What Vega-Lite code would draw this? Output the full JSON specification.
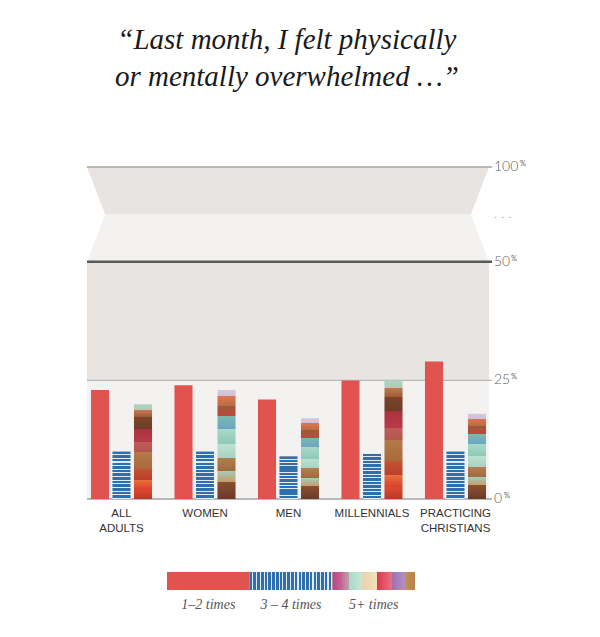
{
  "$schema": "https://vega.github.io/schema/vega-lite/v6.json",
  "background": "white",
  "padding": {"left": 85, "top": 26, "right": 5, "bottom": 5},
  "title": {
    "text": ["“Last month, I felt physically", "or mentally overwhelmed …”"],
    "font": "Liberation Serif",
    "fontStyle": "italic",
    "fontWeight": "normal",
    "fontSize": 29,
    "lineHeight": 37,
    "color": "#1a1a1a",
    "anchor": "middle",
    "dx": -19,
    "offset": 68
  },
  "config": {"view": {"stroke": null}},
  "spacing": 38,
  "datasets": {
    "bars": [
      {"group": "ALL ADULTS", "times": "1–2 times", "value": 23},
      {"group": "ALL ADULTS", "times": "3–4 times", "value": 10},
      {"group": "ALL ADULTS", "times": "5+ times", "value": 20},
      {"group": "WOMEN", "times": "1–2 times", "value": 24},
      {"group": "WOMEN", "times": "3–4 times", "value": 10},
      {"group": "WOMEN", "times": "5+ times", "value": 23},
      {"group": "MEN", "times": "1–2 times", "value": 21},
      {"group": "MEN", "times": "3–4 times", "value": 9},
      {"group": "MEN", "times": "5+ times", "value": 17},
      {"group": "MILLENNIALS", "times": "1–2 times", "value": 25},
      {"group": "MILLENNIALS", "times": "3–4 times", "value": 9.5},
      {"group": "MILLENNIALS", "times": "5+ times", "value": 25},
      {"group": "PRACTICING CHRISTIANS", "times": "1–2 times", "value": 29},
      {"group": "PRACTICING CHRISTIANS", "times": "3–4 times", "value": 10},
      {"group": "PRACTICING CHRISTIANS", "times": "5+ times", "value": 18}
    ],
    "bands": [
      {"lo": 0, "hi": 25, "shade": "light"},
      {"lo": 25, "hi": 50, "shade": "dark"}
    ],
    "trap": [
      {"bx": 0, "lo": 70, "hi": 70, "shade": "dark"},
      {"bx": 0.045, "lo": 60, "hi": 70, "shade": "dark"},
      {"bx": 0.955, "lo": 60, "hi": 70, "shade": "dark"},
      {"bx": 1, "lo": 70, "hi": 70, "shade": "dark"},
      {"bx": 0, "lo": 50, "hi": 50, "shade": "light"},
      {"bx": 0.045, "lo": 50, "hi": 60, "shade": "light"},
      {"bx": 0.955, "lo": 50, "hi": 60, "shade": "light"},
      {"bx": 1, "lo": 50, "hi": 50, "shade": "light"}
    ],
    "lines": [{"v": 0}, {"v": 25}, {"v": 50}, {"v": 70}],
    "ticks": [
      {"v": 0, "label": "0"},
      {"v": 25, "label": "25"},
      {"v": 50, "label": "50"},
      {"v": 60, "label": ". . ."},
      {"v": 70, "label": "100"}
    ],
    "legend": [{"label": "1–2 times"}, {"label": "3 – 4 times"}, {"label": "5+ times"}]
  },
  "vconcat": [
    {
      "width": 402,
      "height": 332,
      "resolve": {"scale": {"x": "independent"}},
      "layer": [
        {
          "layer": [
            {
              "data": {"name": "bands"},
              "mark": {"type": "rect"},
              "encoding": {
                "x": {"datum": 0, "type": "quantitative", "scale": {"domain": [0, 1]}, "axis": null},
                "x2": {"datum": 1},
                "y": {"field": "lo", "type": "quantitative", "scale": {"domain": [0, 70], "nice": false}, "axis": null},
                "y2": {"field": "hi"},
                "color": {"field": "shade", "type": "nominal", "scale": {"domain": ["light", "dark"], "range": ["#f3f2f0", "#e8e4e2"]}, "legend": null}
              }
            },
            {
              "data": {"name": "trap"},
              "mark": {"type": "area", "interpolate": "linear"},
              "encoding": {
                "x": {"field": "bx", "type": "quantitative", "scale": {"domain": [0, 1]}, "axis": null},
                "y": {"field": "lo", "type": "quantitative", "stack": null, "scale": {"domain": [0, 70], "nice": false}, "axis": null},
                "y2": {"field": "hi"},
                "color": {"field": "shade", "type": "nominal", "scale": {"domain": ["light", "dark"], "range": ["#f3f2f0", "#e8e4e2"]}, "legend": null}
              }
            },
            {
              "data": {"name": "lines"},
              "mark": {"type": "rule", "clip": false},
              "encoding": {
                "x": {"datum": 0, "type": "quantitative", "scale": {"domain": [0, 1]}, "axis": null},
                "x2": {"datum": 1.0075},
                "y": {"field": "v", "type": "quantitative", "scale": {"domain": [0, 70], "nice": false}, "axis": null},
                "color": {"condition": {"test": "datum.v == 50", "value": "#5a5a5a"}, "value": "#b8b8b8"},
                "strokeWidth": {"condition": [{"test": "datum.v == 50", "value": 2.5}, {"test": "datum.v == 25", "value": 1.2}], "value": 2}
              }
            },
            {
              "data": {"name": "ticks"},
              "mark": {"type": "text", "align": "left", "baseline": "middle", "fontSize": 14, "fontWeight": 300, "font": "Lato", "dx": 5},
              "encoding": {
                "x": {"datum": 1, "type": "quantitative", "scale": {"domain": [0, 1]}, "axis": null},
                "y": {"field": "v", "type": "quantitative", "scale": {"domain": [0, 70], "nice": false}, "axis": null},
                "text": {"field": "label", "type": "nominal"},
                "color": {"condition": {"test": "datum.v == 60", "value": "#999999"}, "value": "#606060"}
              }
            },
            {
              "data": {"name": "lines"},
              "mark": {"type": "text", "align": "left", "baseline": "middle", "fontSize": 7.5, "font": "Lato", "color": "#666", "dy": -3, "dx": {"expr": "datum.v == 70 ? 31 : datum.v == 0 ? 15 : 22"}},
              "encoding": {
                "x": {"datum": 1, "type": "quantitative", "scale": {"domain": [0, 1]}, "axis": null},
                "y": {"field": "v", "type": "quantitative", "scale": {"domain": [0, 70], "nice": false}, "axis": null},
                "text": {"value": "%"}
              }
            }
          ]
        },
        {
          "data": {"name": "bars"},
          "encoding": {
            "x": {
              "field": "group", "type": "nominal", "sort": null,
              "scale": {"domain": ["ALL ADULTS", "WOMEN", "MEN", "MILLENNIALS", "PRACTICING CHRISTIANS"], "range": [-7.25, 410.25], "paddingInner": 0.2275, "paddingOuter": 0.11375},
              "axis": {"title": null, "orient": "bottom", "domain": false, "ticks": false, "labelAngle": 0, "labelPadding": 8, "labelExpr": "split(datum.label, ' ')", "labelFont": "Liberation Sans", "labelFontSize": 11.5, "labelColor": "#333", "labelLineHeight": 15, "labelBaseline": "top"}
            },
            "xOffset": {"field": "times", "type": "nominal", "sort": null, "scale": {"domain": ["1–2 times", "3–4 times", "5+ times"], "paddingInner": 0.16, "paddingOuter": 0.08}},
            "y": {
              "field": "value", "type": "quantitative",
              "scale": {"domain": [0, 70], "nice": false},
              "axis": null
            }
          },
          "layer": [
            {
              "transform": [{"filter": "datum.times == '1–2 times'"}],
              "mark": {"type": "bar", "color": "#e0534e"}
            },
            {
              "transform": [{"filter": "datum.times == '3–4 times'"}],
              "mark": {"type": "bar", "color": {"gradient": "linear", "x1": 0, "y1": 0, "x2": 0, "y2": 1, "stops": [
                {"offset": 0, "color": "#2f6fae"}, {"offset": 0.0554, "color": "#2f6fae"}, {"offset": 0.0554, "color": "#e3ecf5"}, {"offset": 0.0769, "color": "#e3ecf5"},
                {"offset": 0.0769, "color": "#2f6fae"}, {"offset": 0.1323, "color": "#2f6fae"}, {"offset": 0.1323, "color": "#e3ecf5"}, {"offset": 0.1538, "color": "#e3ecf5"},
                {"offset": 0.1538, "color": "#2f6fae"}, {"offset": 0.2092, "color": "#2f6fae"}, {"offset": 0.2092, "color": "#e3ecf5"}, {"offset": 0.2308, "color": "#e3ecf5"},
                {"offset": 0.2308, "color": "#2f6fae"}, {"offset": 0.2862, "color": "#2f6fae"}, {"offset": 0.2862, "color": "#e3ecf5"}, {"offset": 0.3077, "color": "#e3ecf5"},
                {"offset": 0.3077, "color": "#2f6fae"}, {"offset": 0.3631, "color": "#2f6fae"}, {"offset": 0.3631, "color": "#e3ecf5"}, {"offset": 0.3846, "color": "#e3ecf5"},
                {"offset": 0.3846, "color": "#2f6fae"}, {"offset": 0.44, "color": "#2f6fae"}, {"offset": 0.44, "color": "#e3ecf5"}, {"offset": 0.4615, "color": "#e3ecf5"},
                {"offset": 0.4615, "color": "#2f6fae"}, {"offset": 0.5169, "color": "#2f6fae"}, {"offset": 0.5169, "color": "#e3ecf5"}, {"offset": 0.5385, "color": "#e3ecf5"},
                {"offset": 0.5385, "color": "#2f6fae"}, {"offset": 0.5939, "color": "#2f6fae"}, {"offset": 0.5939, "color": "#e3ecf5"}, {"offset": 0.6154, "color": "#e3ecf5"},
                {"offset": 0.6154, "color": "#2f6fae"}, {"offset": 0.6708, "color": "#2f6fae"}, {"offset": 0.6708, "color": "#e3ecf5"}, {"offset": 0.6923, "color": "#e3ecf5"},
                {"offset": 0.6923, "color": "#2f6fae"}, {"offset": 0.7477, "color": "#2f6fae"}, {"offset": 0.7477, "color": "#e3ecf5"}, {"offset": 0.7692, "color": "#e3ecf5"},
                {"offset": 0.7692, "color": "#2f6fae"}, {"offset": 0.8246, "color": "#2f6fae"}, {"offset": 0.8246, "color": "#e3ecf5"}, {"offset": 0.8462, "color": "#e3ecf5"},
                {"offset": 0.8462, "color": "#2f6fae"}, {"offset": 0.9016, "color": "#2f6fae"}, {"offset": 0.9016, "color": "#e3ecf5"}, {"offset": 0.9231, "color": "#e3ecf5"},
                {"offset": 0.9231, "color": "#2f6fae"}, {"offset": 0.9785, "color": "#2f6fae"}, {"offset": 0.9785, "color": "#e3ecf5"}, {"offset": 1, "color": "#e3ecf5"}
              ]}}
            },
            {
              "transform": [{"filter": "datum.times == '5+ times' && (datum.group == 'ALL ADULTS' || datum.group == 'MILLENNIALS')"}],
              "mark": {"type": "bar", "color": {"gradient": "linear", "x1": 0, "y1": 0, "x2": 0, "y2": 1, "stops": [
                {"offset": 0, "color": "#a9d6c6"}, {"offset": 0.06, "color": "#b8c8b0"},
                {"offset": 0.06, "color": "#c47a52"}, {"offset": 0.14, "color": "#9c5a36"},
                {"offset": 0.14, "color": "#7a4428"}, {"offset": 0.26, "color": "#6e3c26"},
                {"offset": 0.26, "color": "#a8343e"}, {"offset": 0.4, "color": "#b83a48"},
                {"offset": 0.4, "color": "#c05c58"}, {"offset": 0.5, "color": "#b4564e"},
                {"offset": 0.5, "color": "#b47a4a"}, {"offset": 0.68, "color": "#a86a3c"},
                {"offset": 0.68, "color": "#c45232"}, {"offset": 0.8, "color": "#b8402c"},
                {"offset": 0.8, "color": "#e8703a"}, {"offset": 0.9, "color": "#d8402e"},
                {"offset": 0.9, "color": "#e04a2e"}, {"offset": 1, "color": "#b8382a"}
              ]}}
            },
            {
              "transform": [{"filter": "datum.times == '5+ times' && !(datum.group == 'ALL ADULTS' || datum.group == 'MILLENNIALS')"}],
              "mark": {"type": "bar", "color": {"gradient": "linear", "x1": 0, "y1": 0, "x2": 0, "y2": 1, "stops": [
                {"offset": 0, "color": "#d6c8de"}, {"offset": 0.06, "color": "#d0c0d4"},
                {"offset": 0.06, "color": "#e0744e"}, {"offset": 0.15, "color": "#b86c42"},
                {"offset": 0.15, "color": "#9a5a38"}, {"offset": 0.24, "color": "#c24640"},
                {"offset": 0.24, "color": "#7cb8ae"}, {"offset": 0.36, "color": "#6aa6c4"},
                {"offset": 0.36, "color": "#a8d8c8"}, {"offset": 0.5, "color": "#8ec8b8"},
                {"offset": 0.5, "color": "#c0e0d0"}, {"offset": 0.62, "color": "#a8d2c2"},
                {"offset": 0.62, "color": "#b0804e"}, {"offset": 0.74, "color": "#a06a40"},
                {"offset": 0.74, "color": "#a0d0c0"}, {"offset": 0.84, "color": "#c89a68"},
                {"offset": 0.84, "color": "#8a5030"}, {"offset": 1, "color": "#6a3a2a"}
              ]}}
            }
          ]
        }
      ]
    },
    {
      "width": 402,
      "height": 18,
      "data": {"name": "legend"},
      "encoding": {
        "x": {
          "field": "label", "type": "nominal", "sort": null,
          "scale": {"domain": ["1–2 times", "3 – 4 times", "5+ times"], "range": [80, 328], "paddingInner": 0, "paddingOuter": 0},
          "axis": {"title": null, "domain": false, "ticks": false, "labelAngle": 0, "labelPadding": 7, "labelFont": "Liberation Serif", "labelFontStyle": "italic", "labelFontSize": 14, "labelColor": "#555"}
        }
      },
      "layer": [
        {
          "transform": [{"filter": "datum.label == '1–2 times'"}],
          "mark": {"type": "bar", "color": "#e0534e"}
        },
        {
          "transform": [{"filter": "datum.label == '3 – 4 times'"}],
          "mark": {"type": "bar", "color": {"gradient": "linear", "x1": 0, "y1": 0, "x2": 1, "y2": 0, "stops": [
            {"offset": 0, "color": "#2f6fae"}, {"offset": 0.0318, "color": "#2f6fae"}, {"offset": 0.0318, "color": "#e3ecf5"}, {"offset": 0.0455, "color": "#e3ecf5"},
            {"offset": 0.0455, "color": "#2f6fae"}, {"offset": 0.0773, "color": "#2f6fae"}, {"offset": 0.0773, "color": "#e3ecf5"}, {"offset": 0.0909, "color": "#e3ecf5"},
            {"offset": 0.0909, "color": "#2f6fae"}, {"offset": 0.1227, "color": "#2f6fae"}, {"offset": 0.1227, "color": "#e3ecf5"}, {"offset": 0.1364, "color": "#e3ecf5"},
            {"offset": 0.1364, "color": "#2f6fae"}, {"offset": 0.1682, "color": "#2f6fae"}, {"offset": 0.1682, "color": "#e3ecf5"}, {"offset": 0.1818, "color": "#e3ecf5"},
            {"offset": 0.1818, "color": "#2f6fae"}, {"offset": 0.2136, "color": "#2f6fae"}, {"offset": 0.2136, "color": "#e3ecf5"}, {"offset": 0.2273, "color": "#e3ecf5"},
            {"offset": 0.2273, "color": "#2f6fae"}, {"offset": 0.2591, "color": "#2f6fae"}, {"offset": 0.2591, "color": "#e3ecf5"}, {"offset": 0.2727, "color": "#e3ecf5"},
            {"offset": 0.2727, "color": "#2f6fae"}, {"offset": 0.3045, "color": "#2f6fae"}, {"offset": 0.3045, "color": "#e3ecf5"}, {"offset": 0.3182, "color": "#e3ecf5"},
            {"offset": 0.3182, "color": "#2f6fae"}, {"offset": 0.35, "color": "#2f6fae"}, {"offset": 0.35, "color": "#e3ecf5"}, {"offset": 0.3636, "color": "#e3ecf5"},
            {"offset": 0.3636, "color": "#2f6fae"}, {"offset": 0.3954, "color": "#2f6fae"}, {"offset": 0.3954, "color": "#e3ecf5"}, {"offset": 0.4091, "color": "#e3ecf5"},
            {"offset": 0.4091, "color": "#2f6fae"}, {"offset": 0.4409, "color": "#2f6fae"}, {"offset": 0.4409, "color": "#e3ecf5"}, {"offset": 0.4545, "color": "#e3ecf5"},
            {"offset": 0.4545, "color": "#2f6fae"}, {"offset": 0.4863, "color": "#2f6fae"}, {"offset": 0.4863, "color": "#e3ecf5"}, {"offset": 0.5, "color": "#e3ecf5"},
            {"offset": 0.5, "color": "#2f6fae"}, {"offset": 0.5318, "color": "#2f6fae"}, {"offset": 0.5318, "color": "#e3ecf5"}, {"offset": 0.5455, "color": "#e3ecf5"},
            {"offset": 0.5455, "color": "#2f6fae"}, {"offset": 0.5773, "color": "#2f6fae"}, {"offset": 0.5773, "color": "#e3ecf5"}, {"offset": 0.5909, "color": "#e3ecf5"},
            {"offset": 0.5909, "color": "#2f6fae"}, {"offset": 0.6227, "color": "#2f6fae"}, {"offset": 0.6227, "color": "#e3ecf5"}, {"offset": 0.6364, "color": "#e3ecf5"},
            {"offset": 0.6364, "color": "#2f6fae"}, {"offset": 0.6682, "color": "#2f6fae"}, {"offset": 0.6682, "color": "#e3ecf5"}, {"offset": 0.6818, "color": "#e3ecf5"},
            {"offset": 0.6818, "color": "#2f6fae"}, {"offset": 0.7136, "color": "#2f6fae"}, {"offset": 0.7136, "color": "#e3ecf5"}, {"offset": 0.7273, "color": "#e3ecf5"},
            {"offset": 0.7273, "color": "#2f6fae"}, {"offset": 0.7591, "color": "#2f6fae"}, {"offset": 0.7591, "color": "#e3ecf5"}, {"offset": 0.7727, "color": "#e3ecf5"},
            {"offset": 0.7727, "color": "#2f6fae"}, {"offset": 0.8045, "color": "#2f6fae"}, {"offset": 0.8045, "color": "#e3ecf5"}, {"offset": 0.8182, "color": "#e3ecf5"},
            {"offset": 0.8182, "color": "#2f6fae"}, {"offset": 0.85, "color": "#2f6fae"}, {"offset": 0.85, "color": "#e3ecf5"}, {"offset": 0.8636, "color": "#e3ecf5"},
            {"offset": 0.8636, "color": "#2f6fae"}, {"offset": 0.8954, "color": "#2f6fae"}, {"offset": 0.8954, "color": "#e3ecf5"}, {"offset": 0.9091, "color": "#e3ecf5"},
            {"offset": 0.9091, "color": "#2f6fae"}, {"offset": 0.9409, "color": "#2f6fae"}, {"offset": 0.9409, "color": "#e3ecf5"}, {"offset": 0.9545, "color": "#e3ecf5"},
            {"offset": 0.9545, "color": "#2f6fae"}, {"offset": 0.9863, "color": "#2f6fae"}, {"offset": 0.9863, "color": "#e3ecf5"}, {"offset": 1, "color": "#e3ecf5"}
          ]}}
        },
        {
          "transform": [{"filter": "datum.label == '5+ times'"}],
          "mark": {"type": "bar", "color": {"gradient": "linear", "x1": 0, "y1": 0, "x2": 1, "y2": 0, "stops": [
            {"offset": 0, "color": "#b04a7a"}, {"offset": 0.12, "color": "#d0609a"},
            {"offset": 0.12, "color": "#c8709a"}, {"offset": 0.2, "color": "#b8a0a8"},
            {"offset": 0.2, "color": "#a8d8c8"}, {"offset": 0.36, "color": "#c8e6d6"},
            {"offset": 0.36, "color": "#e8d2b0"}, {"offset": 0.54, "color": "#f2e2ba"},
            {"offset": 0.54, "color": "#e03650"}, {"offset": 0.72, "color": "#e87080"},
            {"offset": 0.72, "color": "#a070b0"}, {"offset": 0.88, "color": "#b092c2"},
            {"offset": 0.88, "color": "#c49252"}, {"offset": 1, "color": "#b8804a"}
          ]}}
        }
      ]
    }
  ]
}
